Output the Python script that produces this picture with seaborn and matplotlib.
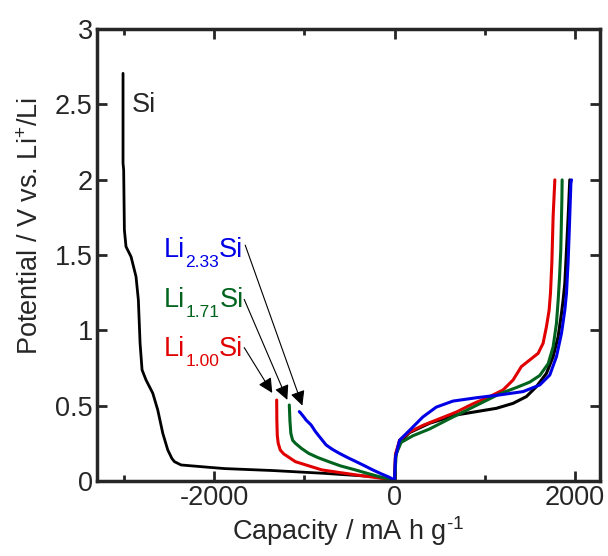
import numpy as np
import pandas as pd
import seaborn as sns
import matplotlib
matplotlib.use("Agg")
import matplotlib.pyplot as plt
from matplotlib.ticker import MultipleLocator, FormatStrFormatter

# Si discharge (negative capacity) and charge
si_dis_x = [-3011, -3011, -3004, -2996, -2978, -2922, -2867, -2841, -2822, -2800, -2756,
            -2681, -2626, -2570, -2515, -2470, -2441, -2367, -2070, -1885, -1352, -796, -241, 0]
si_dis_y = [2.705, 2.108, 2.064, 1.666, 1.555, 1.488, 1.356, 1.201, 0.914, 0.737, 0.67,
            0.582, 0.471, 0.316, 0.206, 0.15, 0.128, 0.106, 0.091, 0.082, 0.069, 0.051, 0.029, 0.007]
si_chg_x = [0, 11, 56, 167, 389, 685, 907, 1130, 1315, 1463, 1574, 1685, 1759, 1815, 1852,
            1870, 1889, 1926, 1944]
si_chg_y = [0.007, 0.161, 0.256, 0.321, 0.383, 0.438, 0.46, 0.482, 0.515, 0.56, 0.626, 0.714,
            0.825, 0.958, 1.113, 1.2, 1.312, 1.754, 1.998]

# Li1.00Si
r_dis_x = [-1307, -1305, -1300, -1290, -1267, -1230, -1180, -1100, -950, -804, -600, -426, -200, -56, 0]
r_dis_y = [0.537, 0.4, 0.3, 0.25, 0.205, 0.18, 0.16, 0.128, 0.1, 0.073, 0.055, 0.04, 0.022, 0.01, 0.005]
r_chg_x = [0, 11, 56, 167, 315, 500, 685, 870, 1056, 1204, 1315, 1407, 1500, 1593, 1648,
           1685, 1715, 1730, 1745, 1759, 1778]
r_chg_y = [0.005, 0.18, 0.27, 0.325, 0.369, 0.413, 0.457, 0.512, 0.56, 0.604, 0.67, 0.759,
           0.803, 0.847, 0.914, 1.024, 1.135, 1.25, 1.45, 1.754, 1.998]

# Li1.71Si
g_dis_x = [-1167, -1160, -1150, -1130, -1100, -1030, -952, -850, -730, -600, -433, -300, -174, 0]
g_dis_y = [0.504, 0.4, 0.316, 0.27, 0.25, 0.215, 0.183, 0.155, 0.128, 0.1, 0.073, 0.05, 0.029, 0.005]
g_chg_x = [0, 19, 74, 204, 389, 611, 796, 981, 1167, 1352, 1500, 1611, 1704, 1759, 1796,
           1815, 1830, 1844, 1856, 1859]
g_chg_y = [0.005, 0.18, 0.256, 0.3, 0.345, 0.413, 0.468, 0.523, 0.578, 0.62, 0.656, 0.7,
           0.778, 0.89, 1.046, 1.2, 1.35, 1.533, 1.865, 1.998]

# Li2.33Si
b_dis_x = [-1056, -1040, -1000, -982, -926, -880, -833, -759, -690, -611, -520, -426, -330,
           -241, -150, -56, 0]
b_dis_y = [0.46, 0.45, 0.42, 0.405, 0.372, 0.33, 0.294, 0.239, 0.21, 0.183, 0.155, 0.128, 0.1,
           0.073, 0.048, 0.024, 0.005]
b_chg_x = [0, 11, 56, 167, 315, 463, 648, 907, 1167, 1426, 1611, 1722, 1796, 1852, 1889,
           1907, 1925, 1937, 1956, 1963]
b_chg_y = [0.005, 0.16, 0.27, 0.336, 0.425, 0.49, 0.53, 0.552, 0.571, 0.593, 0.637, 0.703,
           0.825, 0.98, 1.135, 1.245, 1.45, 1.643, 1.975, 1.998]

# label pieces: (main, subscript, tail)
label_parts = [("Li", "1.00", "Si"), ("Li", "1.71", "Si"), ("Li", "2.33", "Si")]

sns.set_style("ticks")
plt.rcParams["font.family"] = ["Liberation Sans", "DejaVu Sans"]
plt.rcParams["mathtext.fontset"] = "custom"
plt.rcParams["mathtext.rm"] = "Liberation Sans"
plt.rcParams["mathtext.it"] = "Liberation Sans"
plt.rcParams["mathtext.default"] = "regular"
plt.rcParams["axes.unicode_minus"] = False

RED, GREEN, BLUE = "#e10000", "#00641e", "#0000e6"
curves = [
    (si_dis_x, si_dis_y, "black", 2.0),
    (si_chg_x, si_chg_y, "black", 2.2),
    (r_dis_x, r_dis_y, RED, 2.2),
    (r_chg_x, r_chg_y, RED, 2.2),
    (g_dis_x, g_dis_y, GREEN, 2.2),
    (g_chg_x, g_chg_y, GREEN, 2.2),
    (b_dis_x, b_dis_y, BLUE, 2.2),
    (b_chg_x, b_chg_y, BLUE, 2.2),
]

fig = plt.figure(figsize=(6.08, 5.56), dpi=100)
ax = fig.add_axes([0.1595, 0.135, 0.8275, 0.813])

for xs, ys, col, lw in curves:
    d = pd.DataFrame({"cap": xs, "pot": ys})
    sns.lineplot(data=d, x="cap", y="pot", sort=False, color=col, lw=lw, ax=ax, estimator=None)

ax.set_xlim(-3300, 2280)
ax.set_ylim(0, 3)
ax.xaxis.set_major_locator(MultipleLocator(2000))
ax.xaxis.set_minor_locator(MultipleLocator(1000))
ax.yaxis.set_major_locator(MultipleLocator(0.5))
ax.yaxis.set_major_formatter(FormatStrFormatter("%g"))
ax.tick_params(which="both", direction="in", top=True, right=True, width=2, labelsize=19.5, pad=3)
ax.tick_params(which="major", length=7)
ax.tick_params(which="minor", length=4)
for s in ax.spines.values():
    s.set_linewidth(2.5)

ax.set_xlabel("Capacity / mA h g$^{\u20101}$", fontsize=19.5, labelpad=2)
ax.set_ylabel("Potential / V vs. Li$^{+}$/Li", fontsize=19.5, labelpad=4)
ax.yaxis.set_label_coords(-0.106, 0.565)

ax.text(-2911, 2.495, "Si", fontsize=19.5, va="center", ha="left")

renderer = fig.canvas.get_renderer()


def chem_label(x, y, parts, color):
    # main text, lowered subscript, then the rest, placed one after another
    main, sub, rest = parts
    t1 = ax.text(x, y, main, color=color, fontsize=19.5, va="baseline", ha="left")
    w1 = t1.get_window_extent(renderer).width * 72 / fig.dpi
    t2 = ax.annotate(sub, xy=(x, y), xytext=(w1, -7), textcoords="offset points",
                     color=color, fontsize=12.5, va="baseline", ha="left")
    w2 = t2.get_window_extent(renderer).width * 72 / fig.dpi
    ax.annotate(rest, xy=(x, y), xytext=(w1 + w2, 0), textcoords="offset points",
                color=color, fontsize=19.5, va="baseline", ha="left")


lab_y = [0.83, 1.155, 1.486]
cols = [RED, GREEN, BLUE]
tails = [(-1667, 0.885), (-1667, 1.205), (-1656, 1.565)]
heads = [(-1356, 0.584), (-1189, 0.538), (-1022, 0.5)]
for parts, y, c, t, h in zip(label_parts, lab_y, cols, tails, heads):
    chem_label(-2556, y, parts, c)
    ax.annotate("", xy=h, xytext=t,
                arrowprops=dict(arrowstyle="-|>", color="black", lw=0.8,
                                mutation_scale=22, shrinkA=0, shrinkB=0))

ax.set_facecolor("white")
fig.savefig("out.png", dpi=100, facecolor="white")
